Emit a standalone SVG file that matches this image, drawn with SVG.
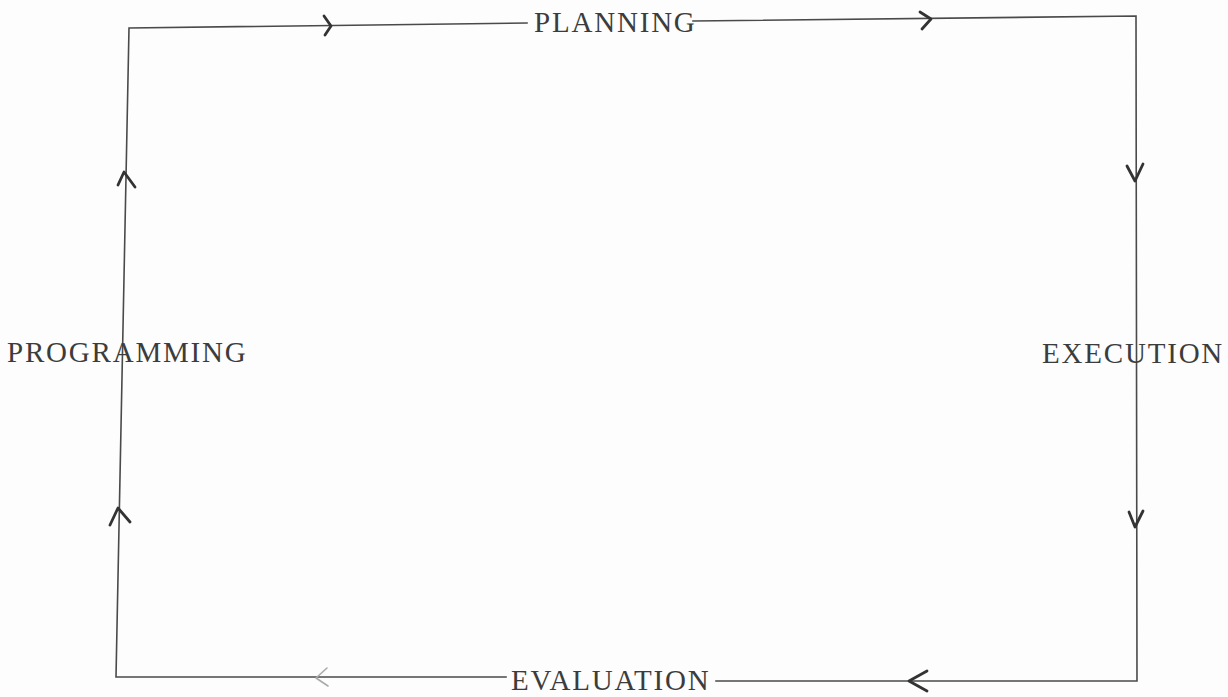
<svg xmlns="http://www.w3.org/2000/svg" width="1228" height="697" viewBox="0 0 1228 697">
<style>
.bg{fill:#fdfdfd}
.ln{fill:none;stroke:#4a4a4a;stroke-width:1.6;stroke-linecap:square}
.ar{fill:none;stroke:#333;stroke-width:2.8;stroke-linecap:round;stroke-linejoin:round}
.ar.light{stroke:#aaa;stroke-width:1.6}
.lbl{font-family:"Liberation Serif","Times New Roman",serif;font-size:29px;letter-spacing:1.8px;fill:#3c3c3c}
</style>
<rect class="bg" width="1228" height="697"/>
<g id="connectors">
  <path class="ln" d="M527,23 L129,28 L116,677 L506,677"/>
  <path class="ln" d="M693,21 L1136,16 L1137,681 L716,681"/>
  <path class="ar" d="M324,16 L331,26 L325,35"/>
  <path class="ar" d="M920,12 L931,19 L922,29"/>
  <path class="ar" d="M1127,166 L1135,181 L1143,164"/>
  <path class="ar" d="M1129,512 L1135,527 L1143,511"/>
  <path class="ar light" d="M327,668 L316,678 L328,686"/>
  <path class="ar" d="M927,671 L909,681 L927,691"/>
  <path class="ar" d="M118,185 L124,172 L135,187"/>
  <path class="ar" d="M110,525 L118,508 L130,522"/>
</g>
<g id="planning"><text class="lbl" x="534" y="32">PLANNING</text></g>
<g id="execution"><text class="lbl" x="1042" y="363">EXECUTION</text></g>
<g id="evaluation"><text class="lbl" x="511" y="690">EVALUATION</text></g>
<g id="programming"><text class="lbl" x="7" y="362">PROGRAMMING</text></g>
</svg>
